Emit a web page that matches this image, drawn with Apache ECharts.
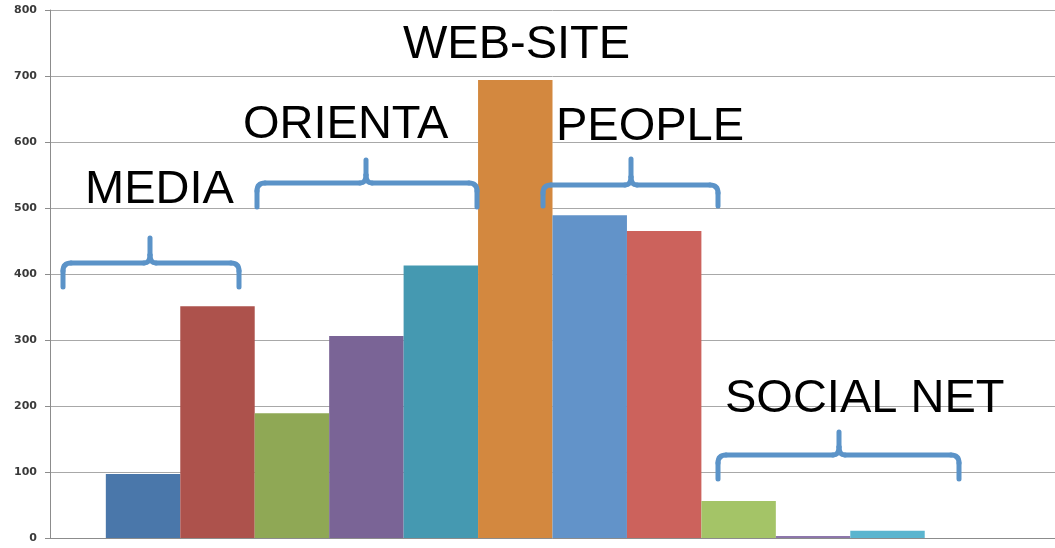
<!DOCTYPE html>
<html>
<head>
<meta charset="utf-8">
<script src="https://cdn.jsdelivr.net/npm/echarts@6/dist/echarts.min.js"></script>
<style>html,body{margin:0;padding:0;background:#fff}#c{width:1055px;height:548px}</style>
</head>
<body>
<div id="c"></div>
<script>
var categories = [''];
var seriesNames = ['S1','S2','S3','S4','S5','S6','S7','S8','S9','S10','S11','S12'];
var seriesValues = [97, 351, 189, 306, 413, 694, 489, 465, 56, 3, 11, 0];
var seriesColors = ['#4a77aa','#ad524c','#8fa855','#7a6496','#4599b1','#d3883f','#6293c9','#cc625c','#a4c467','#8d77ab','#5bb5cf','#f5a85f'];
var yTicks = [0,100,200,300,400,500,600,700,800];
var labels = [
  {text:'WEB-SITE', x:403, y:69},
  {text:'ORIENTA', x:243, y:149},
  {text:'MEDIA', x:85, y:214},
  {text:'PEOPLE', x:556, y:151},
  {text:'SOCIAL NET', x:725, y:423}
];
var braces = [
  {l:63, r:239, h:263, b:287, m:150, t:238},
  {l:257, r:477, h:183, b:207, m:366, t:160},
  {l:543, r:718, h:185, b:206, m:631, t:159},
  {l:718, r:959, h:455, b:479, m:839, t:432}
];

var BSTYLE = {fill:null, stroke:'#5b93c8', lineWidth:5, lineCap:'round'};
function braceEls(o){
  var r = 8;
  function ln(x1,y1,x2,y2){return {type:'line', z:10, shape:{x1:x1,y1:y1,x2:x2,y2:y2}, style:BSTYLE};}
  function bz(x1,y1,cx,cy,x2,y2){return {type:'bezierCurve', z:10, shape:{x1:x1,y1:y1,cpx1:cx,cpy1:cy,x2:x2,y2:y2}, style:BSTYLE};}
  return [
    ln(o.l, o.b, o.l, o.h + r),
    bz(o.l, o.h + r, o.l, o.h, o.l + r, o.h),
    ln(o.l + r, o.h, o.m - 6, o.h),
    bz(o.m - 6, o.h, o.m, o.h, o.m, o.h - 8),
    ln(o.m, o.h - 8, o.m, o.t),
    bz(o.m, o.h - 8, o.m, o.h, o.m + 6, o.h),
    ln(o.m + 6, o.h, o.r - r, o.h),
    bz(o.r - r, o.h, o.r, o.h, o.r, o.h + r),
    ln(o.r, o.h + r, o.r, o.b)
  ];
}

var chart = echarts.init(document.getElementById('c'));
var series = seriesNames.map(function(n,i){
  return {
    name:n, type:'bar', data:[seriesValues[i]],
    barGap:'0%', barCategoryGap:'11.11%',
    itemStyle:{color:seriesColors[i]},
    silent:true, z:2
  };
});
var graphic = [];
braces.forEach(function(o){ graphic = graphic.concat(braceEls(o)); });
labels.forEach(function(o){
  graphic.push({type:'text', x:o.x, y:o.y, z:11,
    style:{text:o.text, fill:'#000', font:'47px "Liberation Sans", Arial, sans-serif', verticalAlign:'bottom'}});
});
chart.setOption({
  animation:false,
  grid:{left:50, right:0, top:10, bottom:10, containLabel:false},
  xAxis:{type:'category', data:categories,
    axisLine:{show:true, lineStyle:{color:'#8c8c8c', width:1}},
    axisTick:{show:false}, axisLabel:{show:false}, splitLine:{show:false}},
  yAxis:{type:'value', min:0, max:800, interval:100,
    axisLine:{show:true, lineStyle:{color:'#8c8c8c', width:1}},
    axisTick:{show:true, length:5, lineStyle:{color:'#8c8c8c'}},
    axisLabel:{color:'#3a3a3a', fontSize:11, fontWeight:'bold', fontFamily:'DejaVu Sans', margin:13,
      formatter:function(v){return yTicks.indexOf(v)>=0 ? String(v) : '';}},
    splitLine:{show:true, lineStyle:{color:'#a8a8a8', width:1}}},
  series:series,
  graphic:graphic
});
</script>
</body>
</html>
